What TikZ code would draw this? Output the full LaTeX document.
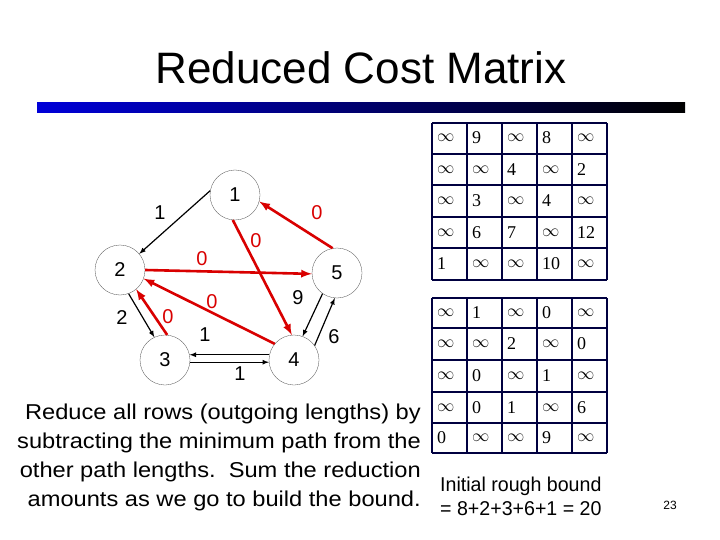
\documentclass[tikz,border=0pt]{standalone}
\usepackage{fontspec}
\setmainfont{Liberation Sans}
\newfontfamily\tms{Liberation Serif}
\begin{document}
\begin{tikzpicture}[x=1pt,y=-1pt,
  vtx/.style={circle,draw=black!70,line width=0.3pt,minimum size=50pt,inner sep=0pt,font=\fontsize{20}{20}\selectfont},
  blk/.style={draw=black,line width=1.2pt,-latex},
  rd/.style={draw=red!85!black,line width=2.6pt,-latex},
  bl/.style={font=\fontsize{20}{20}\selectfont,inner sep=0pt},
  rl/.style={font=\fontsize{20}{20}\selectfont,inner sep=0pt,text=red!85!black},
  cell/.style={font=\tms\fontsize{18}{18}\selectfont,inner sep=0pt,anchor=west}]
\useasboundingbox (0,0) rectangle (720,540);
\fill[white] (0,0) rectangle (720,540);
\node[font=\fontsize{44}{44}\selectfont] (title) at (361,68) {Reduced Cost Matrix};
\shade[left color=blue!85!black,right color=black] (37,103) rectangle (685,113);
\coordinate (bar) at (361,108);
% graph
\node[vtx] (n1) at (235,195) {1};
\node[vtx] (n2) at (120,270) {2};
\node[vtx] (n3) at (165,360) {3};
\node[vtx] (n4) at (294,360) {4};
\node[vtx] (n5) at (337,273) {5};
\draw[blk] (n1.170) -- (n2.40);
\draw[blk] (n2.-70) -- (n3.115);
\draw[blk] (n4.168) -- (n3.12);
\draw[blk] (n3.-5) -- (n4.-175);
\draw[blk] (n5.-125) -- (n4.70);
\draw[blk] (n4.35) -- (n5.-95);
\draw[rd] (n5.100) -- (n1.-15);
\draw[rd] (n1.-95) -- (n4.95);
\draw[rd] (n2.0) -- (n5.182);
\draw[rd] (n4.140) -- (n2.-20);
\draw[rd] (n3.85) -- (n2.-50);
\node[bl] (l12) at (160,213) {1};
\node[rl] (l51) at (317,213) {0};
\node[rl] (l14) at (256,241) {0};
\node[rl] (l25) at (202,259) {0};
\node[rl] (l42) at (212,302) {0};
\node[rl] (l32) at (168,317) {0};
\node[bl] (l23) at (122,318) {2};
\node[bl] (l43) at (205,335) {1};
\node[bl] (l34) at (240,374) {1};
\node[bl] (l54) at (298,298) {9};
\node[bl] (l45) at (334,337) {6};
% matrices
\begin{scope}[draw=blue!25!black,line width=1.3pt]
\foreach \x in {432,467,502,537,572,607} {\draw (\x,123) -- (\x,280); \draw (\x,298) -- (\x,453);}
\foreach \y in {123,154,185,217,248,280} \draw (432,\y) -- (607,\y);
\foreach \y in {298,328,360,392,423,453} \draw (432,\y) -- (607,\y);
\end{scope}
\def\I{$\infty$}
\foreach \r/\a/\b/\c/\d/\e [count=\i from 0] in {
  138/\I/9/\I/8/\I, 170/\I/\I/4/\I/2, 201/\I/3/\I/4/\I, 233/\I/6/7/\I/12, 264/1/\I/\I/10/\I,
  313/\I/1/\I/0/\I, 344/\I/\I/2/\I/0, 376/\I/0/\I/1/\I, 408/\I/0/1/\I/6, 438/0/\I/\I/9/\I} {
  \node[cell] (c\i a) at (437,\r) {\a};
  \node[cell] (c\i b) at (472,\r) {\b};
  \node[cell] (c\i c) at (507,\r) {\c};
  \node[cell] (c\i d) at (542,\r) {\d};
  \node[cell] (c\i e) at (577,\r) {\e};
}
\node[font=\fontsize{21.5}{29}\selectfont,align=right,anchor=north east,inner sep=0pt,xscale=1.1] (txt) at (421,404)
 {Reduce all rows (outgoing lengths) by\\subtracting the minimum path from the\\other path lengths.\ \ Sum the reduction\\amounts as we go to build the bound.};
\node[font=\fontsize{20}{24}\selectfont,align=left,anchor=north west,inner sep=0pt,xscale=0.98] (bound) at (440,477)
 {Initial rough bound\\= 8+2+3+6+1 = 20};
\node[font=\fontsize{12}{12}\selectfont] (pg) at (670,505) {23};
\end{tikzpicture}
\end{document}
